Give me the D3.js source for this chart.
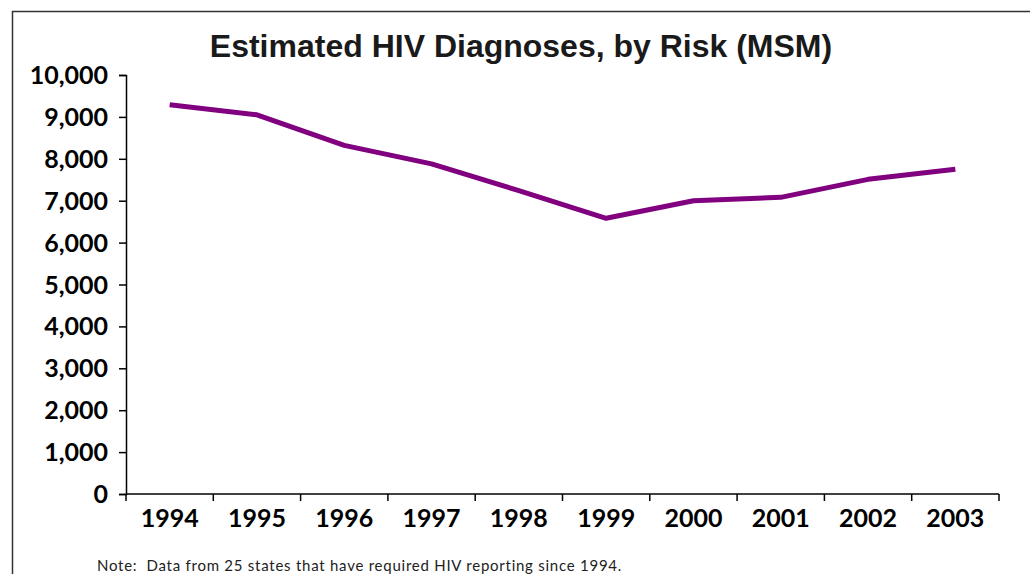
<!DOCTYPE html>
<html>
<head>
<meta charset="utf-8">
<script src="https://cdn.jsdelivr.net/npm/d3@7"></script>
<style>
  html, body { margin: 0; padding: 0; background: #fff; }
  svg { display: block; }
</style>
</head>
<body>
<svg id="chart" width="1030" height="574"></svg>
<script>
// Estimated HIV diagnoses among MSM, 25 states, 1994–2003
const years = ["1994", "1995", "1996", "1997", "1998", "1999", "2000", "2001", "2002", "2003"];
const diagnoses = [9290, 9050, 8320, 7880, 7240, 6580, 7000, 7080, 7510, 7750];
const yTicks = [0, 1000, 2000, 3000, 4000, 5000, 6000, 7000, 8000, 9000, 10000];

const svg = d3.select("#chart");
const labelFont = "Lato, 'DejaVu Sans', sans-serif";

// frame around the slide
svg.append("path")
  .attr("d", "M12.5,574 L12.5,11.5 L1032,11.5")
  .attr("fill", "none")
  .attr("stroke", "#333")
  .attr("stroke-width", 1.5);

const plot = { left: 126, right: 999, top: 75, bottom: 494 };

const x = d3.scaleBand().domain(years).range([plot.left, plot.right]).padding(0);
const y = d3.scaleLinear().domain([0, 10000]).range([plot.bottom, plot.top]);

// title
svg.append("text")
  .attr("x", 521).attr("y", 57)
  .attr("text-anchor", "middle")
  .attr("font-family", "'Liberation Sans', Arial, sans-serif")
  .attr("font-weight", "bold")
  .attr("font-size", 32)
  .attr("fill", "#1a1a1a")
  .text("Estimated HIV Diagnoses, by Risk (MSM)");

// y axis
const yAxis = svg.append("g")
  .attr("transform", `translate(${plot.left},0)`)
  .call(d3.axisLeft(y).tickValues(yTicks).tickFormat(d3.format(",")).tickSize(7).tickPadding(11));
yAxis.select(".domain").attr("stroke", "#000").attr("stroke-width", 1.5);
yAxis.selectAll(".tick line").attr("stroke", "#000").attr("stroke-width", 1.5);
yAxis.selectAll(".tick text")
  .attr("font-family", labelFont)
  .attr("font-weight", "bold")
  .attr("font-size", 25)
  .attr("fill", "#000")
  .attr("dy", "0.34em");

// x axis: ticks at category boundaries, labels centred in each band
const xAxis = svg.append("g").attr("transform", `translate(0,${plot.bottom})`);
xAxis.append("line")
  .attr("x1", plot.left).attr("x2", plot.right)
  .attr("stroke", "#000").attr("stroke-width", 1.5);
const bounds = d3.range(years.length + 1).map(i => plot.left + i * x.step());
xAxis.selectAll("line.tick")
  .data(bounds)
  .join("line")
  .attr("class", "tick")
  .attr("x1", d => d).attr("x2", d => d)
  .attr("y1", 0).attr("y2", 7)
  .attr("stroke", "#000").attr("stroke-width", 1.5);
xAxis.selectAll("text")
  .data(years)
  .join("text")
  .attr("x", d => x(d) + x.bandwidth() / 2)
  .attr("y", 33)
  .attr("text-anchor", "middle")
  .attr("font-family", labelFont)
  .attr("font-weight", "bold")
  .attr("font-size", 25)
  .attr("fill", "#000")
  .text(d => d);

// series line
const line = d3.line()
  .x((d, i) => x(years[i]) + x.bandwidth() / 2)
  .y(d => y(d));
svg.append("path")
  .datum(diagnoses)
  .attr("d", line)
  .attr("fill", "none")
  .attr("stroke", "#800080")
  .attr("stroke-width", 5)
  .attr("stroke-linejoin", "round");

// footnote
svg.append("text")
  .attr("x", 97).attr("y", 571)
  .attr("font-family", labelFont)
  .attr("font-size", 15)
  .attr("letter-spacing", 0.75)
  .attr("fill", "#222")
  .attr("xml:space", "preserve")
  .text("Note:  Data from 25 states that have required HIV reporting since 1994.");
</script>
</body>
</html>
